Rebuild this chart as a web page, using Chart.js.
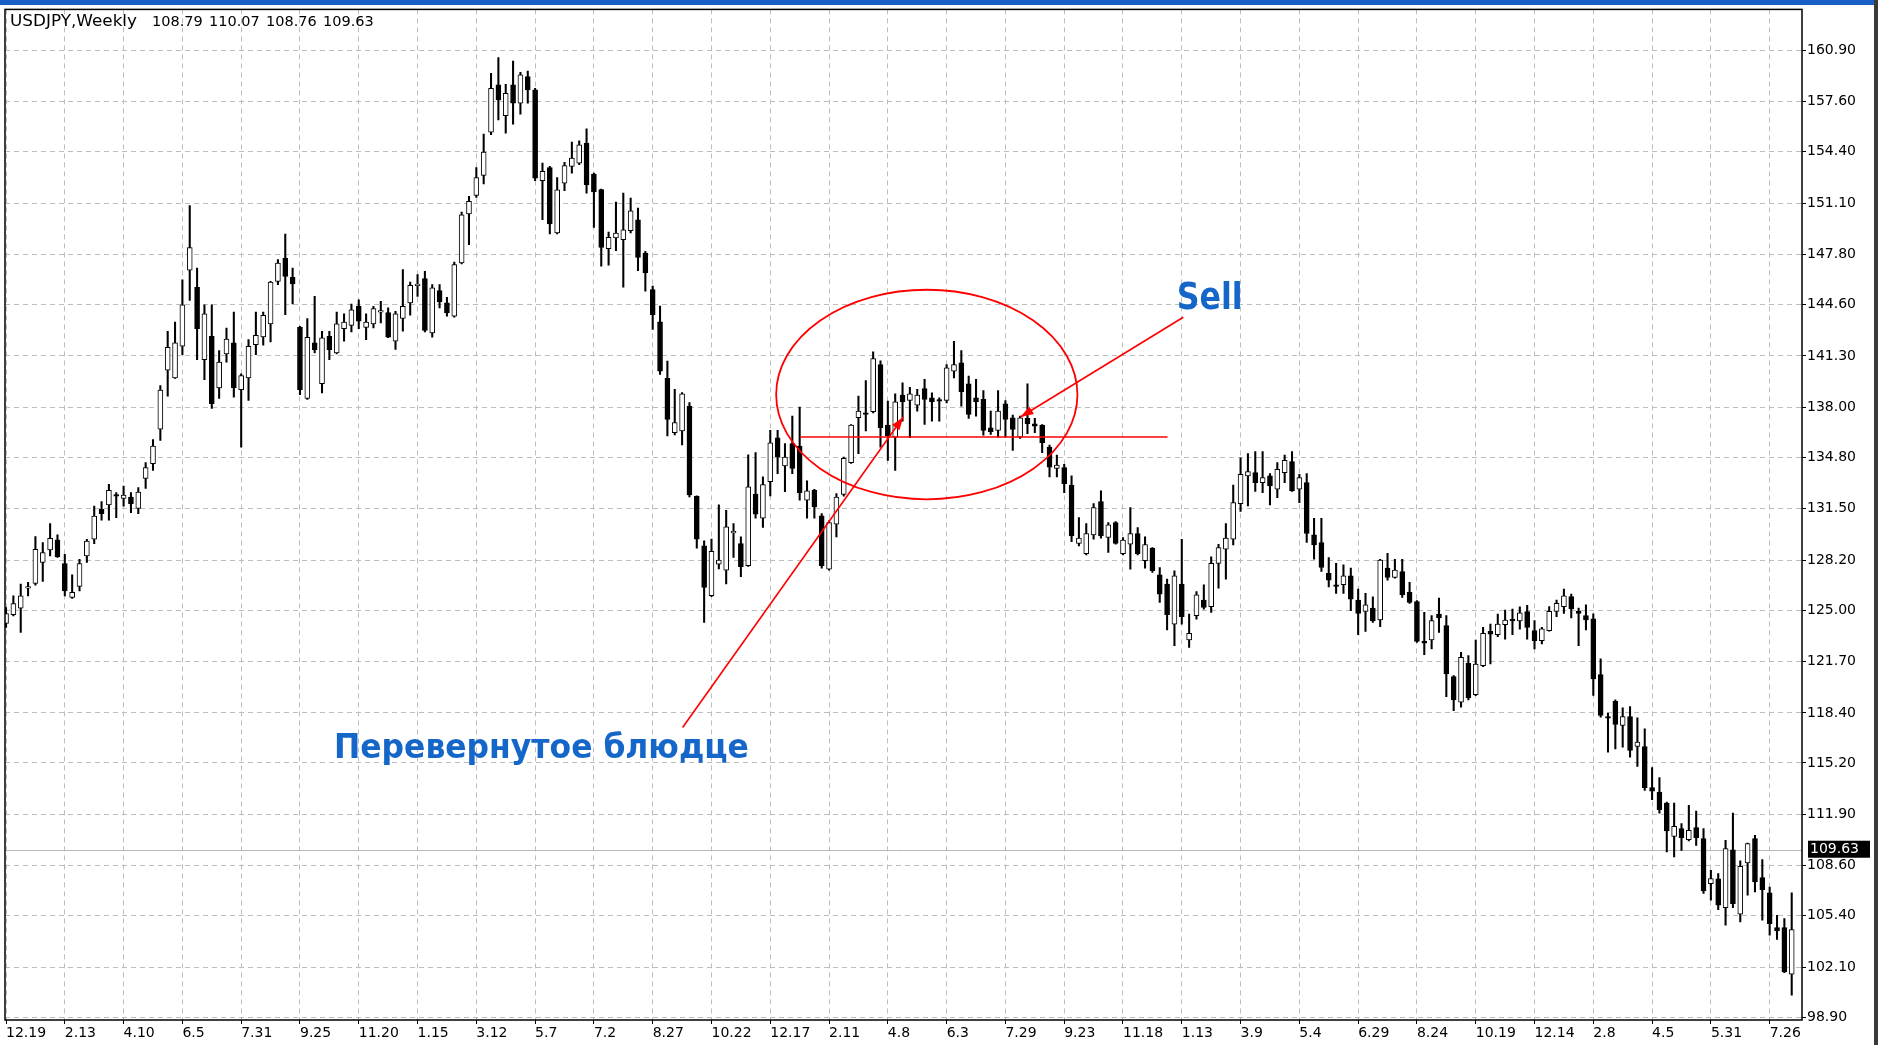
<!DOCTYPE html>
<html>
<head>
<meta charset="utf-8">
<script src="https://cdn.jsdelivr.net/npm/chart.js@4.4.1/dist/chart.umd.min.js"></script>
<style>
  html, body { margin: 0; padding: 0; background: #fff; }
  #wrap { position: relative; width: 1878px; height: 1045px; }
</style>
</head>
<body>
<div id="wrap"><canvas id="chart"></canvas></div>
<script>
// --- данные графика (недельные свечи) ---
const symbolName = 'USDJPY,Weekly';
const lastBar = [108.79, 110.07, 108.76, 109.63]; // O H L C текущей свечи из заголовка

const xTickLabels = ['12.19','2.13','4.10','6.5','7.31','9.25','11.20','1.15','3.12','5.7','7.2','8.27',
  '10.22','12.17','2.11','4.8','6.3','7.29','9.23','11.18','1.13','3.9','5.4','6.29','8.24','10.19',
  '12.14','2.8','4.5','5.31','7.26'];
const weeksPerTick = 8;

const yTickLabels = ['160.90','157.60','154.40','151.10','147.80','144.60','141.30','138.00','134.80',
  '131.50','128.20','125.00','121.70','118.40','115.20','111.90','108.60','105.40','102.10','98.90'];

const opens = [124.14,124.70,125.12,126.40,126.70,128.05,128.86,129.50,127.98,125.81,126.51,128.47,129.54,131.46,131.74,132.40,132.16,132.25,131.52,133.44,
  134.38,136.60,140.38,139.89,141.92,146.80,145.69,141.06,142.56,139.25,141.43,142.13,139.14,139.89,142.02,142.51,143.35,146.08,147.57,146.33,
  143.13,138.57,142.13,139.51,142.56,141.49,143.05,143.26,144.48,143.13,143.35,144.10,144.08,142.24,143.70,144.70,145.80,146.26,142.78,145.49,
  144.70,143.84,147.26,150.40,151.59,152.87,155.65,158.68,156.71,158.68,157.50,159.21,158.36,152.53,153.38,149.18,152.38,153.45,153.66,154.94,
  152.96,151.96,148.18,148.86,148.75,149.33,150.03,147.90,145.55,143.48,139.86,136.38,136.48,138.08,132.30,129.12,125.92,127.95,127.56,129.95,
  129.27,127.84,132.43,130.90,133.23,136.05,134.24,135.67,135.52,132.04,132.68,131.04,127.62,130.50,132.42,134.45,137.33,137.65,137.72,140.75,
  136.86,136.09,138.78,138.44,138.14,139.21,138.61,138.50,138.44,140.32,140.85,139.51,138.61,138.51,136.69,136.52,138.23,137.33,136.09,137.29,
  136.95,136.86,135.45,134.09,134.13,133.02,129.27,128.62,129.82,131.95,129.65,130.61,128.62,129.22,129.91,128.16,128.97,127.26,126.66,124.10,
  126.66,123.08,124.64,125.64,125.21,127.99,128.90,129.54,131.83,133.60,133.81,133.17,133.60,132.75,133.81,134.52,132.75,133.17,129.82,129.33,
  127.35,126.62,126.62,127.20,125.64,124.91,125.13,124.36,127.69,127.09,127.47,126.13,125.55,122.99,123.08,124.74,124.00,120.73,119.09,121.58,
  119.58,121.44,123.63,123.42,124.06,124.40,124.30,124.91,123.68,123.04,123.68,124.92,125.22,125.86,124.92,124.64,124.43,120.86,118.17,119.15,
  117.60,118.17,116.25,116.25,113.61,113.33,112.62,110.49,110.98,110.28,111.05,110.34,107.46,107.77,105.92,109.63,105.49,108.78,110.34,107.84,
  106.86,104.64,104.64,101.65];
const highs = [125.16,125.91,126.66,126.77,129.71,129.33,130.54,129.82,128.58,127.26,128.26,129.54,131.67,131.95,133.06,132.53,132.95,132.53,132.85,134.45,
  135.94,139.40,142.88,143.47,146.18,150.94,146.93,144.58,144.58,141.64,143.09,144.11,140.15,142.34,144.11,144.11,146.08,147.47,149.11,146.93,
  143.20,143.69,145.12,142.88,142.88,144.11,143.99,144.63,144.90,143.99,144.48,144.80,144.38,144.16,146.83,146.04,146.51,146.73,145.87,145.87,
  145.06,147.32,150.52,151.53,153.38,155.52,159.42,160.43,158.72,160.21,159.49,159.57,158.46,153.66,153.45,152.74,153.72,155.01,155.09,155.86,
  153.02,152.00,149.24,151.17,151.74,151.42,150.78,148.01,145.77,144.49,140.96,139.15,138.94,138.30,132.32,129.44,129.55,131.75,131.40,130.55,
  129.70,134.95,135.10,133.55,136.52,136.52,135.67,137.44,138.01,133.28,132.74,131.19,130.72,132.47,134.81,136.90,138.72,139.72,141.56,140.98,
  138.40,138.87,139.57,139.29,139.15,139.79,138.93,138.61,140.75,142.24,141.64,140.00,139.79,139.08,137.76,139.08,138.44,137.50,137.44,139.51,
  137.29,136.90,135.58,134.94,134.34,133.60,130.93,130.55,131.83,132.64,130.61,130.67,129.65,131.57,130.29,129.69,129.01,127.73,126.98,127.52,
  129.54,124.74,126.19,126.62,128.41,129.22,130.55,133.02,134.77,135.03,135.16,135.16,133.75,134.45,134.94,135.16,133.71,133.75,130.89,130.89,
  128.37,127.99,127.90,127.69,126.34,126.07,125.85,128.26,128.63,128.26,128.26,126.77,125.60,124.85,124.64,125.77,124.64,120.80,122.29,122.08,
  123.08,123.89,124.10,124.74,125.00,125.06,125.21,125.30,124.32,123.89,125.22,125.64,126.35,126.03,125.13,125.34,124.75,121.87,118.39,119.24,
  118.73,118.81,118.09,117.38,114.89,114.25,112.69,112.62,111.30,112.48,112.11,110.98,108.31,108.10,110.23,111.98,108.91,110.06,110.55,108.99,
  107.24,105.43,105.21,106.86];
const lows = [123.88,124.63,123.56,125.91,126.60,126.83,128.47,128.37,125.91,125.75,126.23,128.05,129.26,130.76,130.76,130.93,131.67,131.25,131.18,132.80,
  133.96,135.88,138.72,139.85,141.38,144.86,141.06,139.78,137.93,138.57,140.89,138.65,135.45,138.44,141.38,141.98,142.19,145.86,143.94,144.63,
  138.82,138.50,141.49,138.93,141.06,141.43,142.24,142.83,143.05,142.34,143.09,143.41,142.46,141.71,142.88,143.91,145.12,142.84,142.50,144.38,
  143.84,143.78,147.19,148.43,151.46,152.32,155.48,156.44,155.58,156.16,156.80,157.50,152.53,150.03,149.12,149.12,151.89,153.02,153.56,151.74,
  149.54,147.05,147.11,148.05,145.70,149.18,146.77,145.45,142.99,140.11,136.16,136.23,135.59,132.26,128.97,124.21,125.86,127.63,126.67,128.37,
  127.14,127.80,130.89,130.30,132.32,133.75,132.59,133.75,132.04,130.89,130.89,127.69,127.56,129.69,132.30,134.40,135.03,136.48,137.65,135.45,
  134.60,133.96,137.12,136.05,137.76,136.90,137.12,137.12,138.29,139.89,138.08,137.29,137.44,136.22,136.26,136.09,136.09,135.24,136.01,136.31,
  136.37,135.09,133.53,133.53,132.53,129.39,129.12,128.54,129.54,129.61,128.69,129.22,128.54,127.62,128.54,127.69,127.41,125.49,123.72,122.72,
  124.10,122.61,124.42,125.06,124.85,126.41,126.98,129.18,131.32,131.68,132.60,132.53,131.74,132.21,133.17,132.60,131.89,129.33,128.26,127.47,
  126.49,126.07,126.07,124.96,123.42,123.63,124.21,123.93,126.92,127.05,125.81,125.43,122.93,122.14,122.50,123.57,119.45,118.55,118.77,119.24,
  119.51,121.37,121.54,123.29,123.14,123.42,123.78,123.14,122.51,122.83,123.64,124.58,124.79,124.49,122.72,123.72,119.52,118.13,115.89,116.10,
  116.21,115.57,114.97,113.44,112.84,111.98,109.49,109.17,109.59,110.19,109.91,106.82,106.39,105.79,104.79,105.92,105.00,106.71,106.92,105.11,
  104.15,103.87,101.74,100.31];
const closes = [124.78,125.42,125.91,126.50,128.90,128.69,129.60,128.41,126.23,126.13,127.98,129.43,131.03,131.18,132.68,132.30,132.38,131.82,132.57,134.13,
  135.51,139.10,141.85,142.13,144.58,148.25,143.05,143.99,138.23,140.91,142.37,139.25,140.04,141.92,142.62,143.90,146.04,147.25,146.40,145.91,
  139.14,142.49,141.70,142.45,141.70,143.35,143.47,144.26,143.52,143.47,144.33,144.20,142.50,143.99,144.48,145.83,145.90,142.93,145.66,144.76,
  144.06,147.15,150.35,151.21,152.74,154.37,158.46,157.72,158.14,157.50,159.32,158.36,152.70,153.13,149.76,151.95,153.51,153.98,154.84,152.28,
  151.81,148.26,148.90,149.18,149.39,150.61,147.62,146.62,143.95,140.32,137.23,137.02,138.87,132.39,129.55,126.45,128.76,128.20,130.34,130.05,
  127.78,132.90,131.15,133.05,135.73,134.81,134.81,134.09,132.53,132.64,131.61,127.84,130.61,132.25,134.73,136.86,137.76,137.55,141.13,136.69,
  136.16,138.36,138.36,138.87,138.78,138.51,138.36,138.40,140.53,140.75,139.00,137.54,138.36,136.52,136.44,137.76,137.22,136.58,137.33,136.95,
  136.80,135.73,134.17,134.30,133.11,129.76,129.61,129.91,131.57,129.76,130.46,129.27,129.48,129.91,128.62,129.20,127.52,126.02,124.70,127.20,
  124.57,123.51,125.98,125.17,127.99,129.01,129.61,131.89,133.71,133.88,133.17,133.49,132.96,134.03,134.60,132.64,133.49,129.91,129.18,127.73,
  126.92,126.52,127.20,125.70,124.79,125.34,124.32,128.20,127.09,127.56,125.98,125.49,122.99,122.87,124.32,124.49,120.90,119.24,121.97,119.37,
  121.54,123.51,123.46,124.10,124.36,124.30,124.82,123.89,123.04,123.79,124.92,125.43,125.92,125.07,124.79,124.36,120.58,118.24,118.07,117.66,
  118.17,116.00,116.53,113.61,113.39,112.20,110.83,111.13,110.41,110.87,110.41,106.99,107.78,106.07,109.70,106.17,108.56,110.02,107.56,107.07,
  104.89,104.42,101.80,104.51];

// --- разметка (в координатах графика) ---
const saucer = { cx: 125.3, cy: 138.82, rx: 20.5, ry: 6.72 };
const neckLine = { x0: 108.1, x1: 158.06, y: 136.10 };
const arrowSaucer = { x0: 92.07, y0: 117.47, x1: 122.1, y1: 137.38 };
const arrowSell = { x0: 160.2, y0: 143.78, x1: 138.05, y1: 137.38 };
const sellLabel = { text: 'Sell', x: 163.8, y: 144.30, size: 38, width: 66 };
const saucerLabel = { text: 'Перевернутое блюдце', x: 72.86, y: 115.50, size: 34, width: 415 };

const bodyData = opens.map((o, i) => ({ x: i, y: [o, closes[i]] }));
const wickData = opens.map((o, i) => ({ x: i, y: [lows[i], highs[i]] }));
const bodyColors = opens.map((o, i) => closes[i] >= o ? '#ffffff' : '#000000');

const FONT = 'DejaVu Sans';
const RED = '#ff0000';
const BLUE = '#1466c8';

function drawArrow(ctx, x0, y0, x1, y1) {
  ctx.beginPath();
  ctx.moveTo(x0, y0);
  ctx.lineTo(x1, y1);
  ctx.stroke();
  const a = Math.atan2(y1 - y0, x1 - x0);
  const len = 13, half = 4.5;
  ctx.beginPath();
  ctx.moveTo(x1, y1);
  ctx.lineTo(x1 - len * Math.cos(a) + half * Math.sin(a), y1 - len * Math.sin(a) - half * Math.cos(a));
  ctx.lineTo(x1 - len * Math.cos(a) - half * Math.sin(a), y1 - len * Math.sin(a) + half * Math.cos(a));
  ctx.closePath();
  ctx.fill();
}

// текст, сжатый по ширине под нужный размер
function drawFitted(ctx, text, font, width, px, py, align) {
  ctx.save();
  ctx.font = font;
  const w = ctx.measureText(text).width;
  ctx.translate(px, py);
  ctx.scale(width / w, 1);
  ctx.textAlign = align;
  ctx.fillText(text, 0, 0);
  ctx.restore();
}

const decor = {
  id: 'decor',
  beforeDraw(chart) {
    const ctx = chart.ctx;
    ctx.save();
    ctx.fillStyle = '#ffffff';
    ctx.fillRect(0, 0, chart.width, chart.height);
    ctx.fillStyle = '#1a5fc6';
    ctx.fillRect(0, 0, chart.width, 5);
    ctx.fillStyle = '#3a3a3a';
    ctx.fillRect(chart.width - 4, 0, 4, chart.height);
    ctx.restore();
  },
  beforeDatasetsDraw(chart) {
    // линия текущей цены
    const { ctx, chartArea: a, scales: { y } } = chart;
    const py = Math.round(y.getPixelForValue(lastBar[3])) + 0.5;
    ctx.save();
    ctx.strokeStyle = '#b8b8b8';
    ctx.lineWidth = 1;
    ctx.beginPath();
    ctx.moveTo(a.left, py);
    ctx.lineTo(a.right, py);
    ctx.stroke();
    ctx.restore();
  },
  afterDatasetsDraw(chart) {
    const { ctx, scales: { x, y } } = chart;
    ctx.save();
    ctx.strokeStyle = RED;
    ctx.fillStyle = RED;
    ctx.lineWidth = 1.8;

    // эллипс
    const cx = x.getPixelForValue(saucer.cx), cy = y.getPixelForValue(saucer.cy);
    const rx = Math.abs(x.getPixelForValue(saucer.cx + saucer.rx) - cx);
    const ry = Math.abs(y.getPixelForValue(saucer.cy + saucer.ry) - cy);
    ctx.beginPath();
    ctx.ellipse(cx, cy, rx, ry, 0, 0, Math.PI * 2);
    ctx.stroke();

    // горизонтальная линия
    ctx.lineWidth = 1.6;
    const ny = y.getPixelForValue(neckLine.y);
    ctx.beginPath();
    ctx.moveTo(x.getPixelForValue(neckLine.x0), ny);
    ctx.lineTo(x.getPixelForValue(neckLine.x1), ny);
    ctx.stroke();

    // стрелки
    [arrowSaucer, arrowSell].forEach(ar => {
      drawArrow(ctx, x.getPixelForValue(ar.x0), y.getPixelForValue(ar.y0),
        x.getPixelForValue(ar.x1), y.getPixelForValue(ar.y1));
    });

    // подписи
    ctx.fillStyle = BLUE;
    ctx.textBaseline = 'alphabetic';
    [sellLabel, saucerLabel].forEach(l => drawFitted(ctx, l.text, 'bold ' + l.size + 'px "' + FONT + '"',
      l.width, x.getPixelForValue(l.x), y.getPixelForValue(l.y), 'center'));
    ctx.restore();
  },
  afterDraw(chart) {
    const { ctx, chartArea: a, scales: { y } } = chart;
    ctx.save();
    // рамка
    ctx.strokeStyle = '#000000';
    ctx.lineWidth = 1.5;
    ctx.strokeRect(a.left, a.top, a.right - a.left, a.bottom - a.top);

    // метка текущей цены
    const py = y.getPixelForValue(lastBar[3]);
    ctx.fillStyle = '#000000';
    ctx.fillRect(a.right + 6, py - 9, 62, 17);
    ctx.fillStyle = '#ffffff';
    ctx.font = '14px "' + FONT + '"';
    ctx.textAlign = 'left';
    ctx.textBaseline = 'middle';
    ctx.fillText(lastBar[3].toFixed(2), a.right + 8, py);

    // заголовок
    ctx.fillStyle = '#000000';
    ctx.textBaseline = 'top';
    drawFitted(ctx, symbolName, '15px "' + FONT + '"', 127, a.left + 5, a.top + 5, 'left');
    ctx.font = '14.5px "' + FONT + '"';
    ctx.textAlign = 'left';
    lastBar.forEach((v, k) => ctx.fillText(v.toFixed(2), a.left + 147 + k * 57, a.top + 6));
    ctx.restore();
  }
};

new Chart(document.getElementById('chart'), {
  type: 'bar',
  data: {
    datasets: [
      {
        label: 'body',
        data: bodyData,
        backgroundColor: bodyColors,
        borderColor: '#000000',
        borderWidth: 1,
        borderSkipped: false,
        barThickness: 5,
        minBarLength: 1,
        grouped: false,
        order: 0
      },
      {
        label: 'wick',
        data: wickData,
        backgroundColor: '#000000',
        borderWidth: 0,
        barThickness: 1.4,
        grouped: false,
        order: 1
      }
    ]
  },
  options: {
    responsive: true,
    maintainAspectRatio: false,
    animation: false,
    events: [],
    layout: { padding: { left: 5, top: 7, right: 0, bottom: 0 } },
    plugins: { legend: { display: false }, tooltip: { enabled: false } },
    scales: {
      x: {
        type: 'linear',
        min: -0.14,
        max: 244.4,
        offset: false,
        afterBuildTicks: s => { s.ticks = xTickLabels.map((l, k) => ({ value: k * weeksPerTick })); },
        afterFit: s => { s.height = 25; },
        ticks: {
          autoSkip: false,
          maxRotation: 0,
          align: 'start',
          padding: 1,
          color: '#000000',
          font: { family: FONT, size: 14 },
          callback: (v, k) => xTickLabels[k]
        },
        grid: { offset: false, color: '#bdbdbd', lineWidth: 1, drawTicks: true, tickLength: 4, tickColor: '#000000', tickBorderDash: [] },
        border: { display: false, dash: [5, 4] }
      },
      y: {
        position: 'right',
        min: 98.71,
        max: 163.52,
        afterBuildTicks: s => {
          s.ticks = yTickLabels.map(l => ({ value: parseFloat(l) })).sort((p, q) => p.value - q.value);
        },
        afterFit: s => { s.width = 76; },
        ticks: {
          autoSkip: false,
          padding: 1,
          color: '#000000',
          font: { family: FONT, size: 14 },
          callback: v => v.toFixed(2)
        },
        grid: { color: '#bdbdbd', lineWidth: 1, drawTicks: true, tickLength: 4, tickColor: '#000000', tickBorderDash: [] },
        border: { display: false, dash: [5, 4] }
      }
    }
  },
  plugins: [decor]
});
</script>
</body>
</html>
